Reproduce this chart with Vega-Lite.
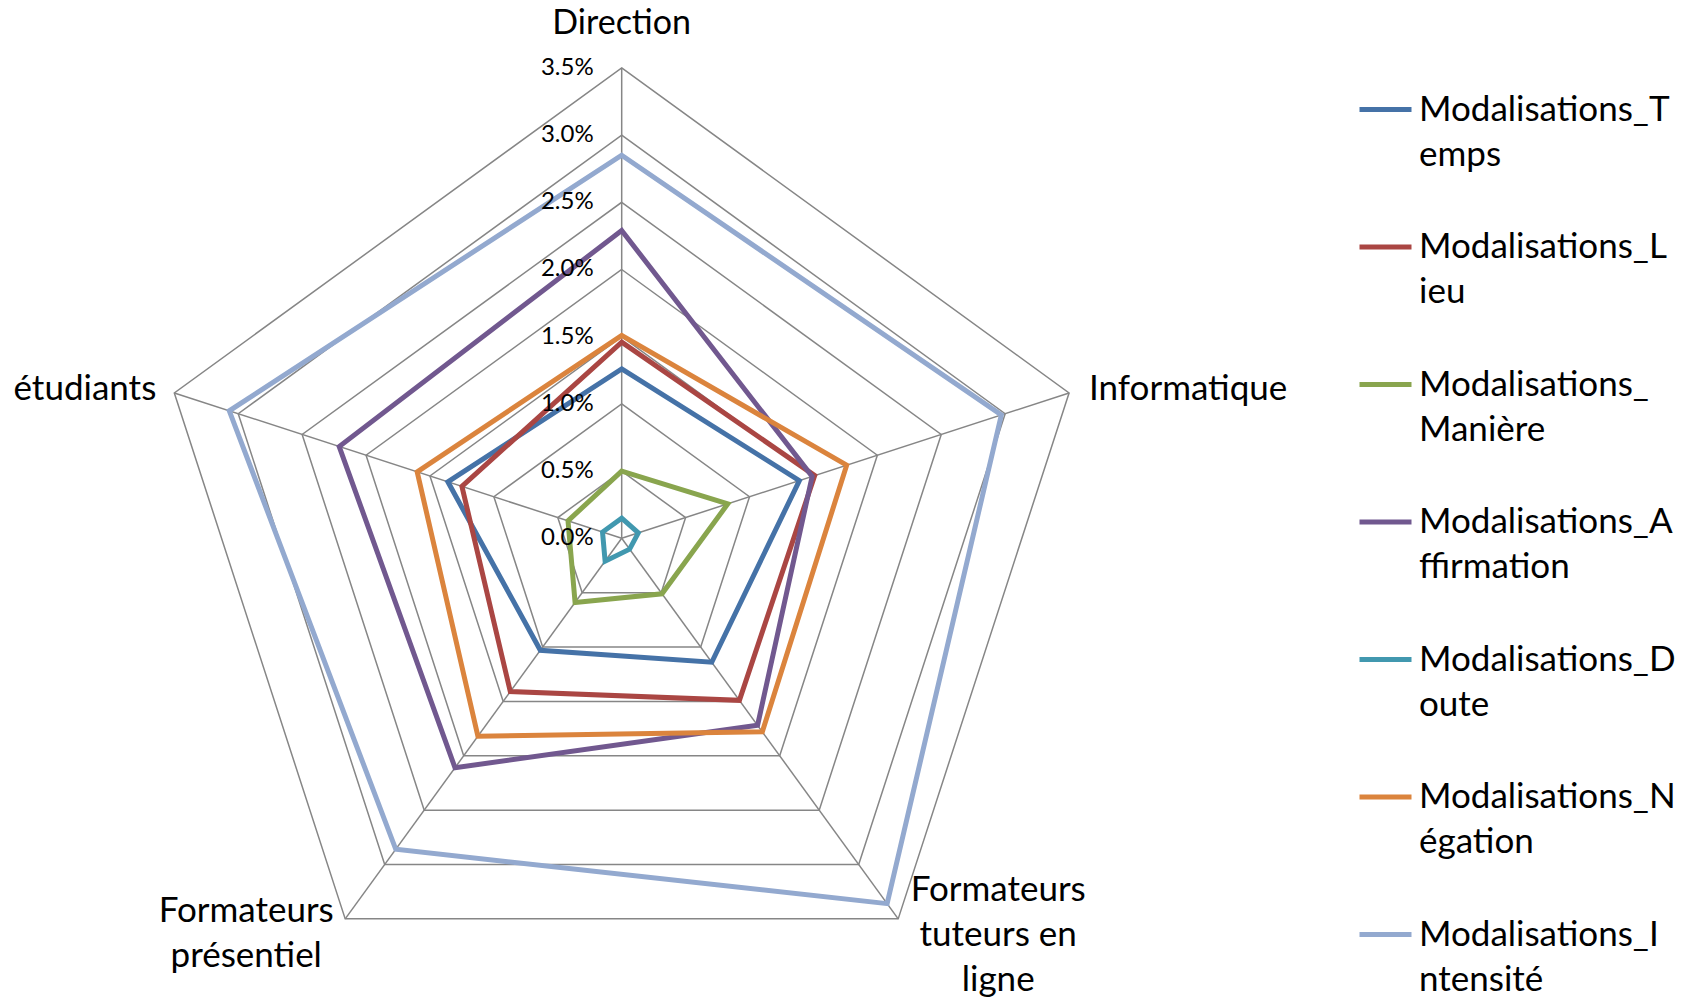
{
  "$schema": "https://vega.github.io/schema/vega-lite/v6.json",
  "width": 1691,
  "height": 1000,
  "autosize": {"type": "none"},
  "padding": 0,
  "background": "white",
  "config": {
    "view": {"stroke": null},
    "font": "Lato",
    "text": {"font": "Lato", "color": "#000000"},
    "style": {"guide-label": {"lineHeight": 45}}
  },
  "datasets": {
    "series": [
      {"serie": "Modalisations_Temps", "axe": "Direction", "v": 1.26},
      {"serie": "Modalisations_Temps", "axe": "Informatique", "v": 1.39},
      {"serie": "Modalisations_Temps", "axe": "Formateurs tuteurs en ligne", "v": 1.14},
      {"serie": "Modalisations_Temps", "axe": "Formateurs présentiel", "v": 1.03},
      {"serie": "Modalisations_Temps", "axe": "étudiants", "v": 1.36},
      {"serie": "Modalisations_Lieu", "axe": "Direction", "v": 1.46},
      {"serie": "Modalisations_Lieu", "axe": "Informatique", "v": 1.51},
      {"serie": "Modalisations_Lieu", "axe": "Formateurs tuteurs en ligne", "v": 1.49},
      {"serie": "Modalisations_Lieu", "axe": "Formateurs présentiel", "v": 1.41},
      {"serie": "Modalisations_Lieu", "axe": "étudiants", "v": 1.25},
      {"serie": "Modalisations_Manière", "axe": "Direction", "v": 0.50},
      {"serie": "Modalisations_Manière", "axe": "Informatique", "v": 0.83},
      {"serie": "Modalisations_Manière", "axe": "Formateurs tuteurs en ligne", "v": 0.51},
      {"serie": "Modalisations_Manière", "axe": "Formateurs présentiel", "v": 0.59},
      {"serie": "Modalisations_Manière", "axe": "étudiants", "v": 0.42},
      {"serie": "Modalisations_Affirmation", "axe": "Direction", "v": 2.29},
      {"serie": "Modalisations_Affirmation", "axe": "Informatique", "v": 1.49},
      {"serie": "Modalisations_Affirmation", "axe": "Formateurs tuteurs en ligne", "v": 1.72},
      {"serie": "Modalisations_Affirmation", "axe": "Formateurs présentiel", "v": 2.11},
      {"serie": "Modalisations_Affirmation", "axe": "étudiants", "v": 2.21},
      {"serie": "Modalisations_Doute", "axe": "Direction", "v": 0.15},
      {"serie": "Modalisations_Doute", "axe": "Informatique", "v": 0.13},
      {"serie": "Modalisations_Doute", "axe": "Formateurs tuteurs en ligne", "v": 0.10},
      {"serie": "Modalisations_Doute", "axe": "Formateurs présentiel", "v": 0.21},
      {"serie": "Modalisations_Doute", "axe": "étudiants", "v": 0.15},
      {"serie": "Modalisations_Négation", "axe": "Direction", "v": 1.51},
      {"serie": "Modalisations_Négation", "axe": "Informatique", "v": 1.76},
      {"serie": "Modalisations_Négation", "axe": "Formateurs tuteurs en ligne", "v": 1.78},
      {"serie": "Modalisations_Négation", "axe": "Formateurs présentiel", "v": 1.82},
      {"serie": "Modalisations_Négation", "axe": "étudiants", "v": 1.60},
      {"serie": "Modalisations_Intensité", "axe": "Direction", "v": 2.85},
      {"serie": "Modalisations_Intensité", "axe": "Informatique", "v": 2.97},
      {"serie": "Modalisations_Intensité", "axe": "Formateurs tuteurs en ligne", "v": 3.36},
      {"serie": "Modalisations_Intensité", "axe": "Formateurs présentiel", "v": 2.86},
      {"serie": "Modalisations_Intensité", "axe": "étudiants", "v": 3.07}
    ],
    "axes": [
      {"axe": "Direction", "lab": "Direction", "lvl": [0.5, 1, 1.5, 2, 2.5, 3, 3.5]},
      {"axe": "Informatique", "lab": "Informatique", "lvl": [0.5, 1, 1.5, 2, 2.5, 3, 3.5]},
      {"axe": "Formateurs tuteurs en ligne", "lab": "Formateurs\ntuteurs en\nligne", "lvl": [0.5, 1, 1.5, 2, 2.5, 3, 3.5]},
      {"axe": "Formateurs présentiel", "lab": "Formateurs\nprésentiel", "lvl": [0.5, 1, 1.5, 2, 2.5, 3, 3.5]},
      {"axe": "étudiants", "lab": "étudiants", "lvl": [0.5, 1, 1.5, 2, 2.5, 3, 3.5]}
    ],
    "ticks": [
      {"lvl": 0, "lab": "0.0%"},
      {"lvl": 0.5, "lab": "0.5%"},
      {"lvl": 1, "lab": "1.0%"},
      {"lvl": 1.5, "lab": "1.5%"},
      {"lvl": 2, "lab": "2.0%"},
      {"lvl": 2.5, "lab": "2.5%"},
      {"lvl": 3, "lab": "3.0%"},
      {"lvl": 3.5, "lab": "3.5%"}
    ]
  },
  "layer": [
    {
      "data": {"name": "axes"},
      "transform": [
        {"flatten": ["lvl"]},
        {"calculate": "indexof(['Direction','Informatique','Formateurs tuteurs en ligne','Formateurs présentiel','étudiants'], datum.axe)", "as": "k"},
        {"calculate": "datum.lvl * sin(datum.k * 2 * PI / 5)", "as": "x"},
        {"calculate": "datum.lvl * cos(datum.k * 2 * PI / 5)", "as": "y"}
      ],
      "mark": {"type": "line", "interpolate": "linear-closed", "stroke": "#868686", "strokeWidth": 1.5},
      "encoding": {
        "x": {"field": "x", "type": "quantitative", "scale": {"domain": [-4.6257, 7.9561], "nice": false, "zero": false}, "axis": null},
        "y": {"field": "y", "type": "quantitative", "scale": {"domain": [-3.4353, 4.0052], "nice": false, "zero": false}, "axis": null},
        "detail": {"field": "lvl", "type": "nominal"},
        "order": {"field": "k", "type": "quantitative"}
      }
    },
    {
      "data": {"name": "axes"},
      "transform": [
        {"calculate": "indexof(['Direction','Informatique','Formateurs tuteurs en ligne','Formateurs présentiel','étudiants'], datum.axe)", "as": "k"},
        {"calculate": "0", "as": "x"},
        {"calculate": "0", "as": "y"},
        {"calculate": "3.5 * sin(datum.k * 2 * PI / 5)", "as": "xe"},
        {"calculate": "3.5 * cos(datum.k * 2 * PI / 5)", "as": "ye"}
      ],
      "mark": {"type": "rule", "stroke": "#868686", "strokeWidth": 1.5},
      "encoding": {
        "x": {"field": "x", "type": "quantitative"},
        "y": {"field": "y", "type": "quantitative"},
        "x2": {"field": "xe"},
        "y2": {"field": "ye"}
      }
    },
    {
      "data": {"name": "series"},
      "transform": [
        {"calculate": "indexof(['Direction','Informatique','Formateurs tuteurs en ligne','Formateurs présentiel','étudiants'], datum.axe)", "as": "k"},
        {"calculate": "datum.v * sin(datum.k * 2 * PI / 5)", "as": "x"},
        {"calculate": "datum.v * cos(datum.k * 2 * PI / 5)", "as": "y"}
      ],
      "mark": {"type": "line", "interpolate": "linear-closed", "strokeWidth": 5},
      "encoding": {
        "x": {"field": "x", "type": "quantitative"},
        "y": {"field": "y", "type": "quantitative"},
        "order": {"field": "k", "type": "quantitative"},
        "color": {
          "field": "serie",
          "type": "nominal",
          "scale": {
            "domain": ["Modalisations_Temps", "Modalisations_Lieu", "Modalisations_Manière", "Modalisations_Affirmation", "Modalisations_Doute", "Modalisations_Négation", "Modalisations_Intensité"],
            "range": ["#4572A7", "#AA4643", "#89A54E", "#71588F", "#4198AF", "#DB843D", "#93A9CF"]
          },
          "legend": {
            "title": null,
            "orient": "none",
            "legendX": 1357,
            "legendY": 81,
            "padding": 0,
            "symbolType": "stroke",
            "symbolSize": 2704,
            "symbolStrokeWidth": 5,
            "labelFont": "Lato",
            "labelFontSize": 35,
            "labelColor": "#000000",
            "labelLimit": 600,
            "labelOffset": 5,
            "rowPadding": 45.5,
            "labelExpr": "datum.label == 'Modalisations_Manière' ? ['Modalisations_', 'Manière'] : [slice(datum.label, 0, 15), slice(datum.label, 15)]"
          }
        }
      }
    },
    {
      "data": {"name": "ticks"},
      "transform": [{"calculate": "0", "as": "x"}],
      "mark": {"type": "text", "align": "right", "baseline": "middle", "dx": -28, "fontSize": 24, "font": "Lato"},
      "encoding": {
        "x": {"field": "x", "type": "quantitative"},
        "y": {"field": "lvl", "type": "quantitative"},
        "text": {"field": "lab", "type": "nominal"}
      }
    },
    {
      "data": {"name": "axes"},
      "transform": [
        {"filter": "datum.axe == 'Direction'"},
        {"calculate": "0", "as": "x"},
        {"calculate": "3.5", "as": "y"}
      ],
      "mark": {"type": "text", "align": "center", "baseline": "middle", "dy": -44, "fontSize": 34, "font": "Lato"},
      "encoding": {
        "x": {"field": "x", "type": "quantitative"},
        "y": {"field": "y", "type": "quantitative"},
        "text": {"field": "lab", "type": "nominal"}
      }
    },
    {
      "data": {"name": "axes"},
      "transform": [
        {"filter": "datum.axe == 'Informatique'"},
        {"calculate": "3.5 * sin(2 * PI / 5)", "as": "x"},
        {"calculate": "3.5 * cos(2 * PI / 5)", "as": "y"}
      ],
      "mark": {"type": "text", "align": "left", "baseline": "middle", "dx": 20, "dy": -4, "fontSize": 35, "font": "Lato"},
      "encoding": {
        "x": {"field": "x", "type": "quantitative"},
        "y": {"field": "y", "type": "quantitative"},
        "text": {"field": "lab", "type": "nominal"}
      }
    },
    {
      "data": {"name": "axes"},
      "transform": [
        {"filter": "datum.axe == 'étudiants'"},
        {"calculate": "3.5 * sin(8 * PI / 5)", "as": "x"},
        {"calculate": "3.5 * cos(8 * PI / 5)", "as": "y"}
      ],
      "mark": {"type": "text", "align": "right", "baseline": "middle", "dx": -18, "dy": -4, "fontSize": 35, "font": "Lato"},
      "encoding": {
        "x": {"field": "x", "type": "quantitative"},
        "y": {"field": "y", "type": "quantitative"},
        "text": {"field": "lab", "type": "nominal"}
      }
    },
    {
      "data": {"name": "axes"},
      "transform": [
        {"filter": "datum.axe == 'Formateurs présentiel'"},
        {"calculate": "3.5 * sin(6 * PI / 5)", "as": "x"},
        {"calculate": "3.5 * cos(6 * PI / 5)", "as": "y"}
      ],
      "mark": {"type": "text", "align": "center", "baseline": "middle", "dx": -99, "dy": -8, "fontSize": 35, "font": "Lato", "lineBreak": "\n", "lineHeight": 45},
      "encoding": {
        "x": {"field": "x", "type": "quantitative"},
        "y": {"field": "y", "type": "quantitative"},
        "text": {"field": "lab", "type": "nominal"}
      }
    },
    {
      "data": {"name": "axes"},
      "transform": [
        {"filter": "datum.axe == 'Formateurs tuteurs en ligne'"},
        {"calculate": "3.5 * sin(4 * PI / 5)", "as": "x"},
        {"calculate": "3.5 * cos(4 * PI / 5)", "as": "y"}
      ],
      "mark": {"type": "text", "align": "center", "baseline": "middle", "dx": 100, "dy": -29, "fontSize": 35, "font": "Lato", "lineBreak": "\n", "lineHeight": 45},
      "encoding": {
        "x": {"field": "x", "type": "quantitative"},
        "y": {"field": "y", "type": "quantitative"},
        "text": {"field": "lab", "type": "nominal"}
      }
    }
  ]
}
